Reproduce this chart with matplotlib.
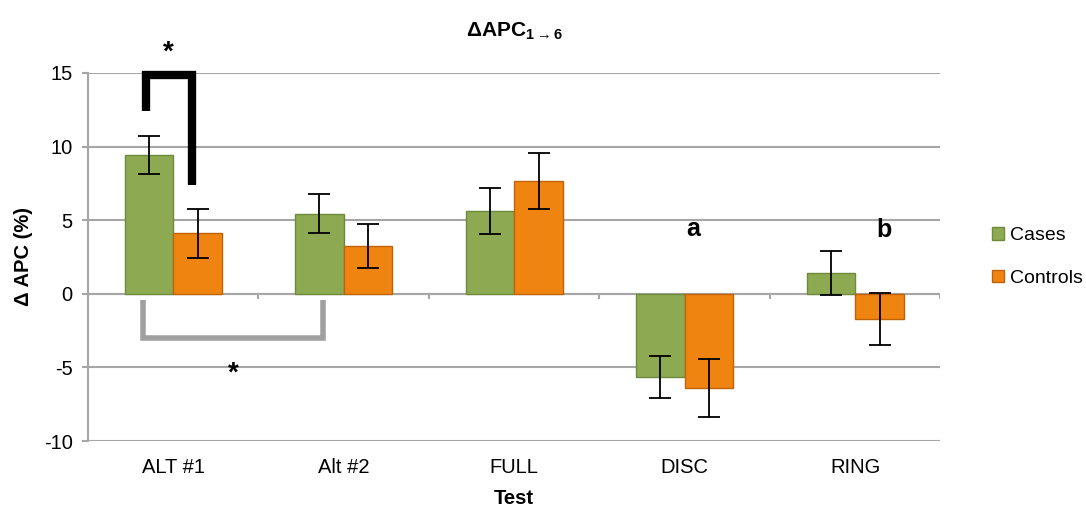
import numpy as np
import matplotlib
matplotlib.use('Agg')
import matplotlib.pyplot as plt

plt.rcParams['font.family'] = ['Liberation Sans', 'DejaVu Sans']
plt.rcParams['axes.unicode_minus'] = False
plt.rcParams['mathtext.fontset'] = 'custom'
plt.rcParams['mathtext.rm'] = 'Liberation Sans'
plt.rcParams['mathtext.bf'] = 'Liberation Sans:bold'

tests = ['ALT #1', 'Alt #2', 'FULL', 'DISC', 'RING']
cases = [9.4, 5.45, 5.6, -5.65, 1.4]
cases_err = [1.3, 1.35, 1.55, 1.4, 1.5]
controls = [4.1, 3.25, 7.65, -6.4, -1.7]
controls_err = [1.65, 1.5, 1.9, 2.0, 1.75]

green = '#8DAA52'
orange = '#F08410'
grid_c = '#A6A6A6'

fig = plt.figure(figsize=(10.86, 5.17), dpi=100)
ax = fig.add_axes([0.081, 0.147, 0.785, 0.712])

x = np.arange(len(tests))
w = 0.285
ax.bar(x - w/2, cases, w, color=green, edgecolor='#6E8A3A', linewidth=1.0,
       label='Cases', zorder=3)
ax.bar(x + w/2, controls, w, color=orange, edgecolor='#C0620A', linewidth=1.0,
       label='Controls', zorder=3)
ax.errorbar(x - w/2, cases, yerr=cases_err, fmt='none', ecolor='black',
            elinewidth=1.3, capsize=8, capthick=1.3, zorder=4)
ax.errorbar(x + w/2, controls, yerr=controls_err, fmt='none', ecolor='black',
            elinewidth=1.3, capsize=8, capthick=1.3, zorder=4)

ax.set_xlim(-0.5, len(tests) - 0.5)
ax.set_ylim(-10, 15)
ax.set_yticks([-10, -5, 0, 5, 10, 15])
ax.yaxis.grid(True, color=grid_c, linewidth=1.5, zorder=0)
ax.set_axisbelow(True)
for s in ['top', 'right', 'bottom']:
    ax.spines[s].set_visible(False)
ax.spines['left'].set_color(grid_c)
ax.spines['left'].set_linewidth(1.5)
ax.axhline(0, color=grid_c, linewidth=1.5, zorder=2)
ax.vlines(np.arange(len(tests) + 1) - 0.5, -0.35, 0, color=grid_c, linewidth=1.5, zorder=2)
ax.tick_params(axis='y', length=4, width=1.5, color=grid_c, labelsize=14.5, pad=7)
ax.tick_params(axis='x', length=0, labelsize=14.5, pad=12)
ax.set_xticks(x)
ax.set_xticklabels(tests)

ax.set_xlabel('Test', fontsize=14.5, fontweight='bold', labelpad=9)
ax.set_ylabel('Δ APC (%)', fontsize=14.5, fontweight='bold', labelpad=8)
ax.set_title(r'ΔAPC$_{\mathbf{1\rightarrow6}}$', fontsize=15, fontweight='bold', pad=26)

# significance brackets
ax.plot([-0.16, -0.16, 0.11, 0.11], [12.4, 14.85, 14.85, 7.4], color='black',
        linewidth=6, solid_joinstyle='miter', solid_capstyle='butt', zorder=5, clip_on=False)
ax.text(-0.03, 16.4, '*', fontsize=20, fontweight='bold', ha='center', va='center')
ax.plot([-0.18, -0.18, 0.88, 0.88], [-0.4, -3.0, -3.0, -0.4], color='#A0A0A0',
        linewidth=4, solid_joinstyle='miter', solid_capstyle='butt', zorder=5)
ax.text(0.35, -5.4, '*', fontsize=20, fontweight='bold', ha='center', va='center')
ax.text(3.05, 4.4, 'a', fontsize=18, fontweight='bold', ha='center', va='center')
ax.text(4.17, 4.3, 'b', fontsize=18, fontweight='bold', ha='center', va='center')

ax.legend(loc='center left', bbox_to_anchor=(1.04, 0.5), frameon=False,
          fontsize=14, handlelength=0.6, handleheight=0.6, handletextpad=0.3,
          labelspacing=1.3)

fig.savefig('out.png', dpi=100)
